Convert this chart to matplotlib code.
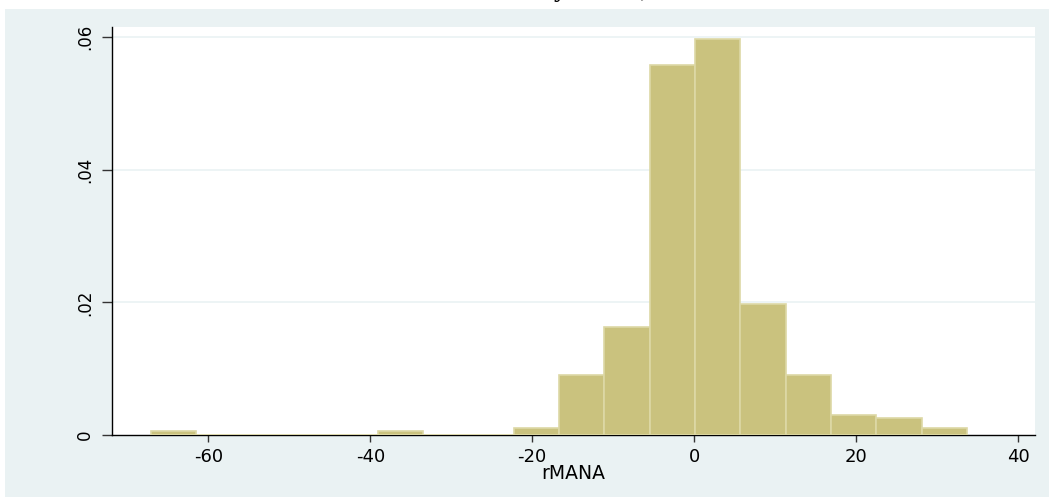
import matplotlib
matplotlib.use("Agg")
import matplotlib.pyplot as plt
from matplotlib.patches import Rectangle
import numpy as np

plt.rcParams["font.family"] = ["DejaVu Sans"]

# histogram of rMANA (density), 18 bins
bin_start = -67.1
bin_width = 5.6
densities = [0.00055, 0.0, 0.0, 0.0, 0.0, 0.00055, 0.0, 0.0, 0.00106,
             0.00909, 0.01622, 0.0557, 0.0597, 0.0198, 0.00909, 0.00306,
             0.0026, 0.00106]
xticks = [-60, -40, -20, 0, 20, 40]
yticks = [0, 0.02, 0.04, 0.06]
ytick_labels = ["0", ".02", ".04", ".06"]
title = "rMANA by Sector, all"

BG = "#EAF2F3"
BAR = "#CAC27E"
BAR_EDGE = "#DDD8A6"

fig = plt.figure(figsize=(10.49, 4.97), dpi=100)
fig.patch.set_facecolor("white")
fig.patches.append(Rectangle((5 / 1049, 0), 1 - 5 / 1049, 488 / 497,
                             transform=fig.transFigure, facecolor=BG,
                             edgecolor="none", zorder=-10))

# title sits above the canvas, only its descenders show
fig.text(443 / 1049, 1.006, title, ha="left", va="baseline",
         fontsize=18.5, fontweight="bold", family="Liberation Serif")

ax = fig.add_axes([112 / 1049, 62 / 497, (1035 - 112) / 1049, (470 - 62) / 497])
ax.set_facecolor("white")

lefts = bin_start + bin_width * np.arange(len(densities))
ax.bar(lefts, densities, width=bin_width, align="edge", color=BAR,
       edgecolor=BAR_EDGE, linewidth=1.2, zorder=3)

ax.set_xlim(-71.9, 42.1)
ax.set_ylim(0, 0.0615)
ax.set_xticks(xticks)
ax.set_xticklabels([str(t) for t in xticks])
ax.set_yticks(yticks)
ax.set_yticklabels(ytick_labels, rotation=90, va="center")
for y in yticks[1:]:
    ax.axhline(y, color=BG, lw=1.2, zorder=1)

ax.tick_params(axis="x", length=5, width=1, color="#333333", pad=4.5,
               labelsize=13)
ax.tick_params(axis="y", length=7, width=1, color="#333333", pad=6,
               labelsize=12)
for s in ("top", "right"):
    ax.spines[s].set_visible(False)
for s in ("left", "bottom"):
    ax.spines[s].set_color("black")
    ax.spines[s].set_linewidth(1)

ax.set_xlabel("rMANA", fontsize=13.5, labelpad=-1.5)

fig.savefig("out.png", dpi=100)
